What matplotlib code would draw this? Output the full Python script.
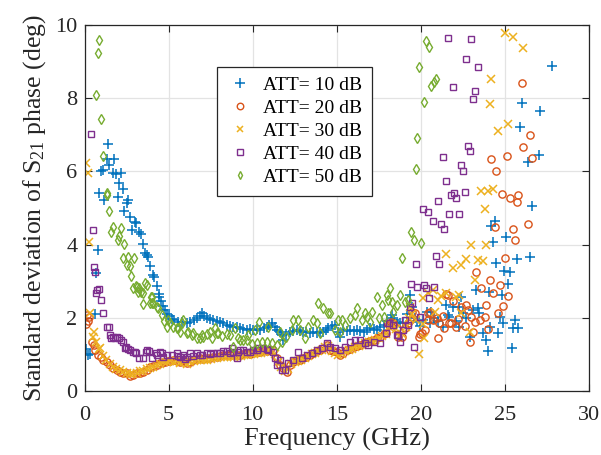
import matplotlib
matplotlib.use("Agg")
import matplotlib.pyplot as plt

plt.rcParams['font.family'] = ['Liberation Serif', 'DejaVu Serif']
plt.rcParams['mathtext.fontset'] = 'custom'
plt.rcParams['mathtext.rm'] = 'Liberation Serif'
plt.rcParams['mathtext.it'] = 'Liberation Serif:italic'

# ---- measured standard deviation of S21 phase (deg) vs frequency (GHz) ----
freq_10 = [0.07, 0.23, 0.3, 0.6, 0.68, 0.78, 0.88, 0.98, 1.08, 1.18, 1.32, 1.38, 1.48, 1.67, 1.77,
           1.87, 1.97, 2.07, 2.17, 2.27, 2.37, 2.5, 2.6, 2.7, 2.8, 3.0, 3.06, 3.26, 3.35, 3.46,
           3.6, 3.7, 3.8, 3.9, 4.05, 4.12, 4.29, 4.41, 4.43, 4.55, 4.65, 4.78, 4.88, 5.0, 5.18,
           5.35, 5.58, 5.8, 6.07, 6.27, 6.5, 6.67, 6.85, 6.97, 7.1, 7.27, 7.45, 7.66, 7.85, 8.06,
           8.25, 8.45, 8.65, 8.85, 9.05, 9.25, 9.45, 9.64, 9.85, 10.04, 10.25, 10.43, 10.65, 10.83,
           11.0, 11.13, 11.3, 11.43, 11.6, 11.72, 11.82, 12.0, 12.22, 12.4, 12.62, 12.8, 13.0,
           13.2, 13.4, 13.6, 13.8, 14.0, 14.2, 14.35, 14.5, 14.7, 14.9, 15.05, 15.2, 15.4, 15.6,
           15.8, 16.0, 16.2, 16.4, 16.6, 16.8, 17.0, 17.2, 17.4, 17.6, 17.8, 18.0, 18.2, 18.26,
           18.4, 18.56, 18.75, 18.95, 19.15, 19.35, 19.45, 19.65, 19.8, 19.95, 20.15, 20.35,
           20.54, 20.6, 20.8, 21.0, 21.3, 21.5, 21.6, 21.7, 21.9, 22.1, 22.3, 22.3, 22.4, 22.5,
           22.7, 22.9, 23.1, 23.3, 23.4, 23.45, 23.7, 23.9, 24.0, 24.05, 24.1, 24.2, 24.3, 24.4,
           24.5, 24.6, 24.7, 24.8, 24.9, 24.95, 25.06, 25.2, 25.3, 25.4, 25.5, 25.6, 25.7, 25.8,
           25.9, 26.0, 26.4, 26.5, 26.6, 27.0, 27.1, 27.8]
phase_10 = [1.14, 0.98, 1.02, 2.1, 3.23, 3.85, 5.42, 6.02, 6.04, 5.22, 6.34, 6.75, 6.17, 5.95, 6.34,
            5.92, 5.29, 5.69, 5.97, 5.52, 4.93, 5.13, 5.22, 4.76, 4.4, 4.63, 4.59, 4.35, 4.3, 4.03,
            3.78, 3.72, 3.67, 3.42, 3.17, 3.12, 2.87, 2.58, 2.65, 2.45, 2.32, 2.2, 2.1, 2.05, 1.98,
            1.95, 1.89, 1.88, 1.87, 1.89, 1.95, 1.99, 2.05, 2.12, 2.05, 1.99, 1.97, 1.94, 1.92, 1.89,
            1.85, 1.8, 1.78, 1.76, 1.74, 1.71, 1.7, 1.68, 1.7, 1.67, 1.69, 1.67, 1.72, 1.76,
            1.8, 1.85, 1.75, 1.67, 1.6, 1.53, 1.39, 1.55, 1.62, 1.65, 1.67, 1.64, 1.62,
            1.6, 1.58, 1.6, 1.58, 1.6, 1.62, 1.68, 1.71, 1.78, 1.8, 1.6, 1.48, 1.67, 1.65,
            1.67, 1.64, 1.67, 1.65, 1.62, 1.68, 1.71, 1.69, 1.68, 1.75, 1.8, 1.9, 1.99, 2.08,
            1.95, 1.89, 1.87, 1.85, 2.1, 2.62, 2.3, 2.0, 1.9, 1.78, 1.95, 2.17,
            1.85, 2.16, 2.0, 1.9, 1.75, 2.35, 2.08, 2.03, 2.29, 1.9, 1.75, 2.3, 2.58, 2.13,
            2.0, 1.48, 2.2, 2.75, 2.27, 2.13, 1.58, 1.39, 1.09, 2.7, 1.75, 4.5, 4.07, 4.64,
            3.5, 1.58, 2.03, 2.62, 1.86, 3.28, 4.2, 2.92, 3.25, 1.17, 1.72, 1.94, 3.6, 1.72,
            7.21, 7.87, 6.25, 3.66, 5.05, 6.45, 7.65, 8.88]

freq_20 = [0.09, 0.17, 0.23, 0.29, 0.43, 0.56, 0.62, 0.82, 0.96, 1.12, 1.32, 1.52, 1.71, 1.91, 2.11,
           2.3, 2.5, 2.7, 2.9, 3.1, 3.3, 3.5, 3.7, 3.9, 4.09, 4.29, 4.49, 4.65, 4.79, 4.95, 5.08,
           5.28, 5.48, 5.68, 5.87, 6.07, 6.27, 6.47, 6.67, 6.87, 7.06, 7.27, 7.46, 7.66, 7.86, 8.06,
           8.25, 8.45, 8.65, 8.85, 9.05, 9.25, 9.44, 9.64, 9.84, 10.04, 10.24, 10.43, 10.63, 10.83,
           11.03, 11.23, 11.43, 11.62, 11.82, 12.02, 12.22, 12.41, 12.61, 12.81, 13.0, 13.2, 13.4,
           13.6, 13.8, 14.0, 14.2, 14.4, 14.6, 14.8, 15.0, 15.2, 15.4, 15.6, 15.8, 16.0, 16.2, 16.4,
           16.6, 16.8, 17.0, 17.2, 17.4, 17.6, 17.8, 17.9, 18.1, 18.2, 18.36, 18.56, 18.66, 18.86,
           19.05, 19.25, 19.35, 19.45, 19.65, 19.9, 19.95, 20.05, 20.25, 20.4, 20.45, 20.54, 20.7,
           20.94, 21.0, 21.1, 21.3, 21.4, 21.5, 21.6, 21.7, 21.8, 21.9, 22.1, 22.2, 22.4, 22.6,
           22.7, 22.8, 22.9, 23.0, 23.1, 23.2, 23.3, 23.5, 23.6, 23.8, 23.9, 24.0, 24.1, 24.2,
           24.3, 24.4, 24.5, 24.6, 24.7, 24.8, 24.9, 25.0, 25.1, 25.2, 25.3, 25.5, 25.6, 25.7,
           25.8, 26.0, 26.1, 26.4, 26.5, 26.6]
phase_20 = [1.83, 2.08, 1.92, 2.03, 1.35, 1.26, 1.12, 0.98, 0.94, 0.85, 0.8, 0.71, 0.62, 0.57, 0.53,
            0.5, 0.48, 0.41, 0.44, 0.48, 0.5, 0.53, 0.57, 0.65, 0.68, 0.71, 0.77, 0.8, 0.8, 0.82, 0.83,
            0.84, 0.83, 0.8, 0.85, 0.76, 0.8, 0.85, 0.87, 0.89, 0.88, 0.9, 0.91, 0.92, 0.94, 0.96,
            0.97, 0.98, 0.97, 0.99, 0.98, 0.98, 1.0, 1.03, 1.02, 1.05, 1.06, 1.07, 1.08, 1.1,
            1.11, 1.12, 0.89, 0.71, 0.62, 0.53, 0.71, 0.8, 0.84, 0.86, 0.89, 0.93, 0.98,
            1.03, 1.08, 1.12, 1.18, 1.26, 1.12, 1.1, 1.07, 0.98, 1.05, 1.12, 1.15, 1.21, 1.23, 1.26,
            1.3, 1.35, 1.37, 1.39, 1.44, 1.48, 1.55, 1.58, 1.8, 1.89, 1.85, 1.71, 1.48, 1.48,
            1.71, 1.85, 1.94, 2.17, 2.12, 1.48, 1.56, 1.58, 1.67, 2.12, 1.94, 2.17, 1.94,
            1.99, 1.44, 1.87, 2.05, 1.71, 2.64, 2.62, 1.85, 1.85, 2.46, 1.74, 1.97, 2.3, 1.78,
            2.35, 2.21, 1.33, 2.03, 1.62, 1.88, 3.24, 1.93, 2.82, 2.01, 2.35, 1.69, 3.03, 6.33,
            2.69, 4.47, 6.01, 2.12, 2.9, 5.37, 2.33, 3.64, 6.42, 2.6, 5.26, 4.42, 4.13, 5.16,
            5.36, 8.42, 6.66, 4.55, 7.0, 6.36]

freq_30 = [0.07, 0.19, 0.29, 0.33, 0.49, 0.55, 0.68, 0.88, 0.92, 1.1, 1.3, 1.5, 1.7, 1.9, 2.1, 2.3,
           2.5, 2.7, 2.9, 3.1, 3.3, 3.5, 3.7, 3.9, 4.1, 4.3, 4.5, 4.7, 4.9, 5.1, 5.3, 5.5, 5.7, 5.9,
           6.1, 6.3, 6.5, 6.7, 6.9, 7.1, 7.3, 7.5, 7.7, 7.9, 8.1, 8.3, 8.5, 8.7, 8.9, 9.1, 9.3, 9.5,
           9.7, 9.9, 10.1, 10.3, 10.5, 10.7, 10.9, 11.1, 11.3, 11.5, 11.7, 11.9, 12.1, 12.3, 12.5,
           12.7, 12.9, 13.1, 13.3, 13.5, 13.7, 13.9, 14.1, 14.3, 14.5, 14.7, 14.9, 15.1, 15.3, 15.5,
           15.7, 15.9, 16.1, 16.3, 16.5, 16.7, 16.9, 17.1, 17.3, 17.5, 17.7, 17.9, 18.1, 18.3, 18.5,
           18.7, 18.9, 19.1, 19.3, 19.35, 19.5, 19.7, 19.9, 20.1, 20.15, 20.2, 20.4, 20.7, 20.84,
           21.0, 21.2, 21.5, 21.5, 21.9, 22.1, 22.3, 22.4, 22.4, 22.7, 22.9, 23.0, 23.2, 23.4,
           23.6, 23.7, 23.8, 23.9, 24.0, 24.1, 24.2, 24.3, 24.6, 25.0, 25.2, 25.5, 26.1]
phase_30 = [6.24, 5.97, 4.08, 2.12, 1.48, 1.6, 1.35, 1.14, 1.17, 0.95, 0.85, 0.75, 0.66, 0.6, 0.56, 0.52,
            0.5, 0.46, 0.47, 0.5, 0.54, 0.55, 0.6, 0.62, 0.66, 0.72, 0.75, 0.78, 0.8, 0.82, 0.8, 0.82, 0.76, 0.8,
            0.74, 0.78, 0.82, 0.84, 0.85, 0.84, 0.86, 0.88, 0.89, 0.9, 0.92, 0.93, 0.93, 0.94, 0.93, 0.95, 0.96, 0.98,
            0.99, 1.0, 1.02, 1.03, 1.05, 1.06, 1.08, 1.08, 1.0, 0.8, 0.66, 0.55, 0.6, 0.74, 0.8,
            0.82, 0.86, 0.9, 0.95, 1.0, 1.05, 1.08, 1.13, 1.2, 1.22, 1.1, 1.05, 0.98, 1.0, 1.08,
            1.12, 1.16, 1.2, 1.22, 1.26, 1.3, 1.33, 1.36, 1.4, 1.44, 1.5, 1.56, 1.75, 1.82, 1.7,
            1.5, 1.55, 1.75, 2.0, 2.3, 2.1, 1.95, 1.0, 1.83, 2.53, 1.44, 2.67, 2.76, 2.17,
            2.49, 2.6, 2.67, 3.74, 3.37, 2.56, 2.62, 3.44, 2.12, 3.61, 1.62, 4.0, 3.04, 3.58,
            5.47, 3.56, 4.96, 4.0, 5.47, 7.83, 8.52, 5.52, 7.1, 9.77, 7.29, 9.68, 9.36]

freq_40 = [0.39, 0.49, 0.56, 0.62, 0.68, 0.76, 0.88, 0.98, 1.08, 1.32, 1.48, 1.5, 1.6, 1.71, 1.81,
           1.91, 2.07, 2.2, 2.27, 2.4, 2.47, 2.6, 2.7, 2.9, 3.0, 3.06, 3.26, 3.46, 3.66, 3.74, 3.86,
           4.0, 4.25, 4.29, 4.49, 4.59, 4.65, 4.88, 5.18, 5.48, 5.58, 5.68, 5.87, 5.97, 6.07, 6.27,
           6.47, 6.67, 6.87, 6.97, 7.27, 7.46, 7.66, 7.86, 8.06, 8.25, 8.45, 8.65, 8.75, 8.85, 9.05,
           9.15, 9.25, 9.44, 9.64, 9.84, 10.04, 10.24, 10.33, 10.63, 10.83, 10.93, 11.23, 11.33,
           11.43, 11.62, 11.72, 11.92, 12.12, 12.41, 12.71, 12.91, 13.21, 13.5, 13.8, 14.1, 14.4,
           14.6, 14.9, 15.2, 15.5, 15.8, 16.1, 16.4, 16.7, 16.87, 17.2, 17.6, 17.9, 17.97, 18.1,
           18.36, 18.56, 18.66, 18.76, 18.95, 19.05, 19.25, 19.35, 19.4, 19.45, 19.6, 19.7, 19.8,
           19.95, 20.1, 20.2, 20.3, 20.4, 20.5, 20.7, 20.8, 20.9, 21.0, 21.1, 21.2, 21.3, 21.4,
           21.5, 21.6, 21.7, 21.8, 21.9, 22.0, 22.1, 22.3, 22.4, 22.5, 22.6, 22.7, 22.8, 22.9,
           23.0, 23.1, 23.2, 23.4]
phase_40 = [7.02, 4.4, 3.38, 3.26, 2.69, 2.76, 2.78, 2.49, 2.14, 1.74, 1.76, 1.53, 1.46, 1.48, 1.44,
            1.48, 1.44, 1.4, 1.35, 1.17, 1.21, 1.14, 1.12, 1.07, 1.07, 1.03, 0.91, 0.91, 1.07, 1.12, 1.1,
            0.91, 1.03, 0.98, 1.07, 1.05, 0.94, 0.98, 0.98, 1.03, 0.96, 0.94, 0.98, 0.87, 0.94, 1.03,
            0.96, 1.03, 0.98, 0.98, 1.03, 1.0, 1.05, 1.03, 1.05, 1.1, 1.1, 1.05, 1.17, 1.07, 0.89,
            1.07, 1.12, 1.12, 1.07, 1.07, 1.12, 1.12, 1.17, 1.17, 1.15, 1.12, 1.07, 0.89,
            0.71, 0.85, 0.57, 0.57, 0.76, 0.85, 1.07, 0.89, 0.98, 1.03, 1.12, 1.17, 1.3,
            1.21, 1.17, 1.12, 1.21, 1.35, 1.39, 1.39, 1.3, 1.26, 1.35, 1.3, 1.58, 1.85, 1.85,
            1.8, 1.53, 1.53, 1.35, 1.67, 1.94, 1.8, 2.3, 2.92, 2.4, 1.19, 3.46, 2.85,
            2.03, 4.97, 2.9, 2.81, 4.88, 2.53, 4.65, 2.83, 3.69, 5.19, 3.46, 4.56, 6.39, 4.43,
            5.73, 9.65, 4.84, 5.35, 8.3, 5.4, 5.28, 4.83, 6.17, 6.01, 5.44, 9.06, 6.69, 6.55,
            9.61, 7.99, 8.2, 8.84]

freq_50 = [0.68, 0.78, 0.88, 0.98, 1.08, 1.32, 1.36, 1.48, 1.6, 1.71, 1.97, 2.05, 2.17, 2.3, 2.37,
           2.5, 2.6, 2.7, 2.77, 2.9, 2.96, 3.06, 3.15, 3.2, 3.26, 3.36, 3.45, 3.5, 3.6, 3.7, 3.9,
           3.93, 4.0, 4.0, 4.1, 4.3, 4.4, 4.6, 4.75, 4.9, 4.95, 5.08, 5.28, 5.48, 5.58, 5.68, 5.78,
           5.87, 6.07, 6.17, 6.37, 6.47, 6.67, 6.87, 6.97, 7.06, 7.27, 7.46, 7.56, 7.76, 7.86, 7.96,
           8.16, 8.45, 8.65, 8.85, 8.95, 9.15, 9.25, 9.44, 9.64, 9.74, 9.94, 10.14, 10.24, 10.39,
           10.53, 10.83, 10.93, 11.13, 11.43, 11.63, 11.72, 12.0, 12.32, 12.41, 12.71, 12.81, 13.1,
           13.3, 13.6, 13.8, 13.9, 14.0, 14.2, 14.5, 14.6, 14.9, 15.1, 15.2, 15.3, 15.5, 15.8,
           16.1, 16.2, 16.5, 16.7, 16.8, 17.0, 17.1, 17.4, 17.5, 17.7, 17.8, 17.97, 18.06, 18.16,
           18.26, 18.36, 18.56, 18.76, 18.86, 19.05, 19.25, 19.4, 19.6, 19.7, 19.8, 19.9, 20.0,
           20.2, 20.3, 20.5, 20.6, 20.8, 20.9]
phase_50 = [8.09, 9.24, 9.59, 7.42, 6.41, 5.36, 5.4, 4.93, 4.34, 4.49, 4.13, 4.23, 4.45, 3.64, 4.01,
            3.44, 3.66, 3.42, 3.14, 2.82, 3.64, 2.88, 2.83, 2.71, 2.81, 2.71, 2.67, 2.39, 2.96, 2.9, 2.41,
            2.56, 2.58, 2.4, 2.4, 2.3, 2.26, 2.07, 1.9, 1.76, 1.94, 1.85, 1.76, 1.71, 1.71, 1.62, 1.85,
            1.94, 1.58, 1.62, 1.53, 1.58, 1.45, 1.44, 1.53, 1.48, 1.55, 1.62, 1.44, 1.71, 1.58, 1.58,
            1.5, 1.55, 1.53, 1.21, 1.71, 1.44, 1.39, 1.39, 1.39, 1.53, 1.28, 1.67, 1.3, 1.89,
            1.35, 1.35, 1.76, 1.3, 1.26, 1.62, 1.35, 1.48, 1.67, 1.94, 1.94, 1.67, 1.44,
            1.76, 1.94, 1.85, 2.4, 1.58, 2.26, 2.12, 2.12, 1.67, 1.94, 1.62, 1.94, 1.8, 1.99,
            2.08, 2.26, 1.94, 2.12, 2.03, 1.89, 2.17, 2.58, 1.99, 2.35, 2.03, 2.62, 2.49, 2.81,
            2.44, 2.17, 2.35, 2.62, 3.63, 2.44, 2.49, 4.34, 4.13, 6.07, 6.92, 8.86, 4.04,
            7.9, 9.56, 9.4, 8.34, 8.43, 8.52]

series_labels = ['ATT= 10 dB', 'ATT= 20 dB', 'ATT= 30 dB', 'ATT= 40 dB', 'ATT= 50 dB']
x_ticks = [0, 5, 10, 15, 20, 25, 30]
y_ticks = [0, 2, 4, 6, 8, 10]

colors = ['#0072BD', '#D95319', '#EDB120', '#7E2F8E', '#77AC30']
styles = [dict(marker='+', ms=7.5, mew=1.1),
          dict(marker='o', ms=5.2, mew=1.0, mfc='none'),
          dict(marker='x', ms=5.2, mew=1.1),
          dict(marker='s', ms=4.7, mew=1.0, mfc='none'),
          dict(marker='d', ms=4.7, mew=1.0, mfc='none')]

fig = plt.figure(figsize=(6.01, 4.55), dpi=100)
ax = fig.add_axes([0.1406, 0.1407, 0.8394, 0.8043])

data = [(freq_10, phase_10), (freq_20, phase_20), (freq_30, phase_30),
        (freq_40, phase_40), (freq_50, phase_50)]
for (f, v), lab, col, st in zip(data, series_labels, colors, styles):
    ax.plot(f, v, linestyle='none', color=col, mec=col, label=lab, **st)

ax.set_xlim(0, 30)
ax.set_ylim(0, 10)
ax.set_xticks(x_ticks)
ax.set_yticks(y_ticks)
ax.grid(True, color='#e3e3e3', linewidth=0.9)
ax.set_axisbelow(True)
ax.tick_params(direction='in', top=True, right=True, length=5, width=0.8,
               labelsize=16, colors='#262626')
ax.tick_params(axis='x', pad=11)
ax.tick_params(axis='y', pad=5)
for s in ax.spines.values():
    s.set_linewidth(0.9)
    s.set_color('#262626')

ax.set_xlabel('Frequency (GHz)', fontsize=19, color='#262626', labelpad=2)
ax.set_ylabel('Standard deviation of S$_{21}$ phase (deg)', fontsize=18.5,
              color='#262626', labelpad=5)

leg = ax.legend(loc='upper left', bbox_to_anchor=(0.263, 0.885), fontsize=14,
                frameon=True, fancybox=False, edgecolor='#262626', framealpha=1,
                handlelength=1.4, handletextpad=0.5, labelspacing=0.28,
                borderpad=0.48, borderaxespad=0.0, markerscale=0.9)
leg.get_frame().set_linewidth(0.9)

fig.savefig('out.png', dpi=100)
